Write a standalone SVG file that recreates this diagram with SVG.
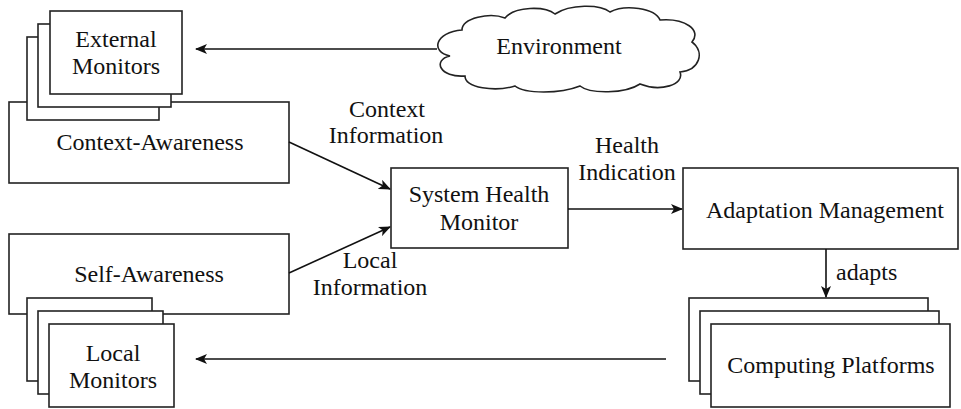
<svg xmlns="http://www.w3.org/2000/svg" width="961" height="409" viewBox="0 0 961 409">
<style>
.b{fill:#fff;stroke:#222;stroke-width:1.6}
.t{font-family:"Liberation Serif",serif;font-size:24px;fill:#111;text-anchor:middle}
.c{fill:none;stroke:#111;stroke-width:1.6}
</style>
<defs>
<marker id="ah" viewBox="0 0 12 10" refX="11" refY="5" markerWidth="12" markerHeight="10" markerUnits="userSpaceOnUse" orient="auto">
<path d="M0,0 L12,5 L0,10 L3,5 z" fill="#111"/>
</marker>
</defs>
<rect width="961" height="409" fill="#fff"/>
<g id="context-awareness">
<rect class="b" x="9" y="102" width="280" height="81"/>
<text class="t" x="150" y="150">Context-Awareness</text>
</g>
<g id="external-monitors">
<rect class="b" x="27" y="37" width="132" height="83"/>
<rect class="b" x="38" y="24" width="133" height="83"/>
<rect class="b" x="50" y="11" width="132" height="83"/>
<text class="t" x="116" y="47">External</text>
<text class="t" x="116" y="74">Monitors</text>
</g>
<g id="self-awareness">
<rect class="b" x="9" y="234" width="280" height="80"/>
<text class="t" x="149" y="282">Self-Awareness</text>
</g>
<g id="local-monitors">
<rect class="b" x="27" y="298" width="125" height="83"/>
<rect class="b" x="38" y="311" width="125" height="83"/>
<rect class="b" x="49" y="324" width="125" height="83"/>
<text class="t" x="113" y="361">Local</text>
<text class="t" x="113" y="388">Monitors</text>
</g>
<g id="environment">
<path class="b" d="M450,56 C430,52 435,32 462,30 C462,18 490,12 505,18 C515,6 545,6 555,14 C570,4 600,4 610,12 C625,4 655,8 660,20 C685,18 702,30 692,42 C705,52 700,70 680,72 C685,85 660,92 640,84 C625,94 590,94 580,86 C560,94 525,94 515,86 C495,92 465,88 465,76 C440,78 432,60 450,56 Z"/>
<text class="t" x="559" y="54">Environment</text>
</g>
<g id="system-health-monitor">
<rect class="b" x="391" y="168" width="177" height="80"/>
<text class="t" x="479" y="202">System Health</text>
<text class="t" x="479" y="230">Monitor</text>
</g>
<g id="adaptation-management">
<rect class="b" x="683" y="168" width="275" height="81"/>
<text class="t" x="825" y="218">Adaptation Management</text>
</g>
<g id="computing-platforms">
<rect class="b" x="689" y="298" width="239" height="83"/>
<rect class="b" x="700" y="311" width="239" height="83"/>
<rect class="b" x="711" y="324" width="239" height="83"/>
<text class="t" x="831" y="373">Computing Platforms</text>
</g>
<g id="connectors">
<line class="c" x1="437" y1="49" x2="196" y2="49" marker-end="url(#ah)"/>
<line class="c" x1="666" y1="359" x2="196" y2="359" marker-end="url(#ah)"/>
<line class="c" x1="289" y1="142" x2="390" y2="189" marker-end="url(#ah)"/>
<line class="c" x1="289" y1="273" x2="390" y2="227" marker-end="url(#ah)"/>
<line class="c" x1="568" y1="209" x2="682" y2="209" marker-end="url(#ah)"/>
<line class="c" x1="826" y1="249" x2="826" y2="297" marker-end="url(#ah)"/>
<text class="t" x="387" y="117">Context</text>
<text class="t" x="386" y="143">Information</text>
<text class="t" x="370" y="268">Local</text>
<text class="t" x="370" y="295">Information</text>
<text class="t" x="627" y="153">Health</text>
<text class="t" x="627" y="180">Indication</text>
<text class="t" x="836" y="280" style="text-anchor:start">adapts</text>
</g>
</svg>
